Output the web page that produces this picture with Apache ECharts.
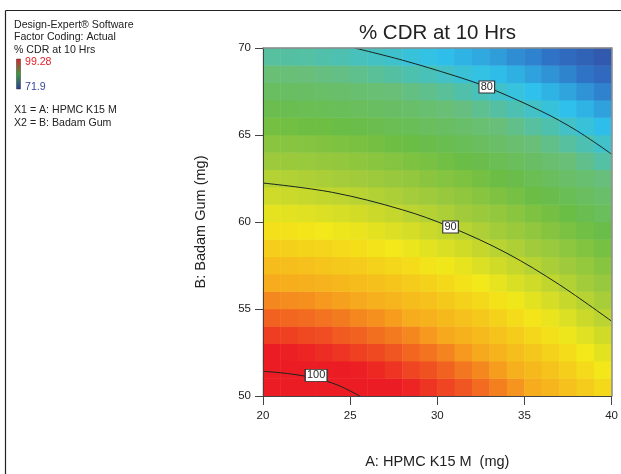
<!DOCTYPE html>
<html>
<head>
<meta charset="utf-8">
<script src="https://cdn.jsdelivr.net/npm/echarts@6/dist/echarts.min.js"></script>
<style>
  html, body { margin: 0; padding: 0; background: #fff; }
  #chart { width: 621px; height: 474px; }
</style>
</head>
<body>
<div id="chart"></div>
<script>
// Factor levels at the centre of each response cell (mg)
const hpmcLevels = [20.5, 21.5, 22.5, 23.5, 24.5, 25.5, 26.5, 27.5, 28.5, 29.5,
                    30.5, 31.5, 32.5, 33.5, 34.5, 35.5, 36.5, 37.5, 38.5, 39.5];
const gumLevels  = [50.5, 51.5, 52.5, 53.5, 54.5, 55.5, 56.5, 57.5, 58.5, 59.5,
                    60.5, 61.5, 62.5, 63.5, 64.5, 65.5, 66.5, 67.5, 68.5, 69.5];

// % CDR at 10 Hrs: one row per Badam Gum level (bottom to top), one column per HPMC K15 M level
const cdrRows = [
  [100.9,100.8,100.6,100.5,100.2,100.0,99.7,99.4,99.1,98.7,98.3,97.9,97.4,96.9,96.4,95.8,95.3,94.6,94.0,93.3],
  [100.1,100.0,99.9,99.7,99.5,99.2,99.0,98.7,98.3,98.0,97.6,97.1,96.7,96.2,95.6,95.1,94.5,93.9,93.2,92.5],
  [99.3,99.2,99.1,98.9,98.7,98.4,98.2,97.9,97.5,97.2,96.8,96.3,95.9,95.4,94.8,94.3,93.7,93.1,92.4,91.7],
  [98.5,98.4,98.2,98.1,97.8,97.6,97.3,97.0,96.7,96.3,95.9,95.5,95.0,94.5,94.0,93.4,92.9,92.2,91.6,90.9],
  [97.6,97.5,97.4,97.2,97.0,96.7,96.5,96.2,95.8,95.5,95.1,94.6,94.2,93.7,93.1,92.6,92.0,91.4,90.7,90.0],
  [96.7,96.6,96.5,96.3,96.1,95.9,95.6,95.3,94.9,94.6,94.2,93.7,93.3,92.8,92.3,91.7,91.1,90.5,89.8,89.1],
  [95.8,95.7,95.6,95.4,95.2,94.9,94.7,94.4,94.0,93.7,93.3,92.8,92.4,91.9,91.3,90.8,90.2,89.6,88.9,88.2],
  [94.9,94.8,94.6,94.4,94.2,94.0,93.7,93.4,93.1,92.7,92.3,91.9,91.4,90.9,90.4,89.8,89.2,88.6,88.0,87.3],
  [93.9,93.8,93.6,93.5,93.2,93.0,92.7,92.4,92.1,91.7,91.3,90.9,90.4,89.9,89.4,88.8,88.3,87.6,87.0,86.3],
  [92.9,92.8,92.6,92.4,92.2,92.0,91.7,91.4,91.1,90.7,90.3,89.9,89.4,88.9,88.4,87.8,87.2,86.6,86.0,85.3],
  [91.8,91.7,91.6,91.4,91.2,91.0,90.7,90.4,90.0,89.7,89.3,88.8,88.4,87.9,87.4,86.8,86.2,85.6,84.9,84.2],
  [90.8,90.7,90.5,90.3,90.1,89.9,89.6,89.3,89.0,88.6,88.2,87.8,87.3,86.8,86.3,85.7,85.1,84.5,83.9,83.2],
  [89.7,89.6,89.4,89.2,89.0,88.8,88.5,88.2,87.9,87.5,87.1,86.7,86.2,85.7,85.2,84.6,84.0,83.4,82.8,82.1],
  [88.5,88.4,88.3,88.1,87.9,87.7,87.4,87.1,86.7,86.4,86.0,85.5,85.1,84.6,84.1,83.5,82.9,82.3,81.6,80.9],
  [87.4,87.3,87.1,86.9,86.7,86.5,86.2,85.9,85.6,85.2,84.8,84.4,83.9,83.4,82.9,82.3,81.7,81.1,80.5,79.8],
  [86.2,86.1,85.9,85.8,85.5,85.3,85.0,84.7,84.4,84.0,83.6,83.2,82.7,82.2,81.7,81.1,80.6,79.9,79.3,78.6],
  [85.0,84.9,84.7,84.5,84.3,84.1,83.8,83.5,83.2,82.8,82.4,82.0,81.5,81.0,80.5,79.9,79.3,78.7,78.1,77.4],
  [83.7,83.6,83.5,83.3,83.1,82.8,82.6,82.3,81.9,81.6,81.2,80.7,80.3,79.8,79.2,78.7,78.1,77.5,76.8,76.1],
  [82.4,82.3,82.2,82.0,81.8,81.6,81.3,81.0,80.6,80.3,79.9,79.4,79.0,78.5,78.0,77.4,76.8,76.2,75.5,74.8],
  [81.1,81.0,80.9,80.7,80.5,80.2,80.0,79.7,79.3,79.0,78.6,78.1,77.7,77.2,76.6,76.1,75.5,74.9,74.2,73.5]
];

// Observed response range shown in the colour key
const cdrLow = 71.9;
const cdrHigh = 99.28;

// Contour lines: [HPMC K15 M, Badam Gum] points along each level
const contour80  = [[25.25, 70], [28, 69.3], [31, 68.4], [32.84, 67.76], [36, 66.35], [38, 65.25], [40, 63.9]];
const contour90  = [[20, 62.24], [24, 61.7], [28, 60.7], [30.76, 59.71], [34, 58.2], [37, 56.4], [40, 54.3]];
const contour100 = [[20, 51.42], [21.5, 51.28], [23, 51.02], [24.3, 50.62], [25.55, 50]];

// Level tags placed on the contour lines
const contourTags = [
  { level: '80',  at: [32.84, 67.76] },
  { level: '90',  at: [30.76, 59.71] },
  { level: '100', at: [23.05, 51.19] }
];

// Axis tick values
const hpmcTicks = [20, 25, 30, 35, 40];
const gumTicks  = [50, 55, 60, 65, 70];

const FONT = "'Liberation Sans', Arial, Helvetica, sans-serif";
const INK = '#222';

const heatData = [];
cdrRows.forEach((row, j) => row.forEach((v, i) => heatData.push([i, j, v])));

const contourLine = (pts) => ({
  type: 'line',
  xAxisIndex: 0, yAxisIndex: 0,
  data: pts,
  smooth: 0.35,
  symbol: 'none',
  silent: true,
  z: 5,
  lineStyle: { color: '#17251f', width: 1 }
});

const chart = echarts.init(document.getElementById('chart'), null, { renderer: 'canvas' });

chart.setOption({
  animation: false,
  backgroundColor: '#ffffff',
  grid: { left: 263, right: 9, top: 48, bottom: 78, show: false },
  xAxis: [
    {
      type: 'value',
      min: hpmcTicks[0], max: hpmcTicks[hpmcTicks.length - 1], interval: hpmcTicks[1] - hpmcTicks[0],
      position: 'bottom', z: 10,
      name: 'A: HPMC K15 M  (mg)', nameLocation: 'middle', nameGap: 58,
      nameTextStyle: { fontFamily: FONT, fontSize: 14.5, color: INK },
      axisLine: { show: true, onZero: false, lineStyle: { color: '#444', width: 1 } },
      axisTick: { show: true, length: 9, lineStyle: { color: '#444', width: 1 } },
      axisLabel: { fontFamily: FONT, fontSize: 11.5, color: INK, margin: 14 },
      splitLine: { show: false }
    },
    {
      type: 'category', data: hpmcLevels.map(String), position: 'top', z: 10,
      axisLine: { show: true, lineStyle: { color: '#8a8a8a', width: 1.5 } },
      axisTick: { show: false }, axisLabel: { show: false }, splitLine: { show: false }
    }
  ],
  yAxis: [
    {
      type: 'value',
      min: gumTicks[0], max: gumTicks[gumTicks.length - 1], interval: gumTicks[1] - gumTicks[0],
      position: 'left', z: 10,
      name: 'B: Badam Gum (mg)', nameLocation: 'middle', nameGap: 55,
      nameTextStyle: { fontFamily: FONT, fontSize: 14.5, color: INK },
      axisLine: { show: true, onZero: false, lineStyle: { color: '#444', width: 1 } },
      axisTick: { show: true, length: 8, lineStyle: { color: '#444', width: 1 } },
      axisLabel: { fontFamily: FONT, fontSize: 11.5, color: INK, margin: 12 },
      splitLine: { show: false }
    },
    {
      type: 'category', data: gumLevels.map(String), position: 'right', z: 10,
      axisLine: { show: true, lineStyle: { color: '#8a8a8a', width: 1.5 } },
      axisTick: { show: false }, axisLabel: { show: false }, splitLine: { show: false }
    }
  ],
  visualMap: {
    show: false,
    type: 'continuous',
    seriesIndex: 0,
    dimension: 2,
    min: cdrLow,
    max: cdrHigh,
    inRange: {
      color: ['#33469a', '#2f6fc4', '#2fc2ec', '#69bf7a', '#6abd45',
              '#a5cc3a', '#f3e81a', '#f7ab1d', '#ec1c24']
    },
    outOfRange: { color: '#ec1c24' }
  },
  series: [
    {
      type: 'heatmap',
      xAxisIndex: 1, yAxisIndex: 1,
      data: heatData,
      silent: true,
      z: 2
    },
    contourLine(contour80),
    contourLine(contour90),
    contourLine(contour100),
    {
      type: 'scatter',
      xAxisIndex: 0, yAxisIndex: 0,
      silent: true,
      z: 6,
      symbol: 'rect',
      data: contourTags.map(t => ({
        name: t.level,
        value: t.at,
        symbolSize: [t.level.length * 6.3 + 3, 12]
      })),
      itemStyle: { color: '#ffffff', borderColor: '#333', borderWidth: 1, opacity: 1 },
      label: {
        show: true, position: 'inside', formatter: '{b}',
        fontFamily: FONT, fontSize: 11, color: '#2a2a2a'
      }
    }
  ],
  graphic: [
    { type: 'line', shape: { x1: 5.5, y1: 10.5, x2: 621, y2: 10.5 }, style: { stroke: '#222', lineWidth: 1.2 } },
    { type: 'line', shape: { x1: 5.5, y1: 10.5, x2: 5.5, y2: 474 }, style: { stroke: '#222', lineWidth: 1.2 } },
    { type: 'text', x: 437.5, y: 33, style: { text: '% CDR at 10 Hrs', font: '20.5px ' + FONT, fill: INK, textAlign: 'center', align: 'center', textVerticalAlign: 'middle', verticalAlign: 'middle' } },
    { type: 'text', x: 14, y: 25, style: { text: 'Design-Expert® Software', font: '10.6px ' + FONT, fill: INK, textVerticalAlign: 'middle', verticalAlign: 'middle' } },
    { type: 'text', x: 14, y: 37.5, style: { text: 'Factor Coding: Actual', font: '10.6px ' + FONT, fill: INK, textVerticalAlign: 'middle', verticalAlign: 'middle' } },
    { type: 'text', x: 14, y: 50, style: { text: '% CDR at 10 Hrs', font: '10.6px ' + FONT, fill: INK, textVerticalAlign: 'middle', verticalAlign: 'middle' } },
    {
      type: 'rect', shape: { x: 16.5, y: 59, width: 4, height: 30 },
      style: {
        fill: new echarts.graphic.LinearGradient(0, 0, 0, 1, [
          { offset: 0, color: '#e3202a' },
          { offset: 0.5, color: '#3b9a3c' },
          { offset: 1, color: '#2a3c9c' }
        ]),
        stroke: '#333', lineWidth: 0.5
      }
    },
    { type: 'text', x: 25, y: 62, style: { text: String(cdrHigh), font: '10.6px ' + FONT, fill: '#e8202a', textVerticalAlign: 'middle', verticalAlign: 'middle' } },
    { type: 'text', x: 25, y: 87.5, style: { text: String(cdrLow), font: '10.6px ' + FONT, fill: '#3a44a0', textVerticalAlign: 'middle', verticalAlign: 'middle' } },
    { type: 'text', x: 14, y: 110, style: { text: 'X1 = A: HPMC K15 M', font: '10.6px ' + FONT, fill: INK, textVerticalAlign: 'middle', verticalAlign: 'middle' } },
    { type: 'text', x: 14, y: 123, style: { text: 'X2 = B: Badam Gum', font: '10.6px ' + FONT, fill: INK, textVerticalAlign: 'middle', verticalAlign: 'middle' } }
  ]
});
</script>
</body>
</html>
